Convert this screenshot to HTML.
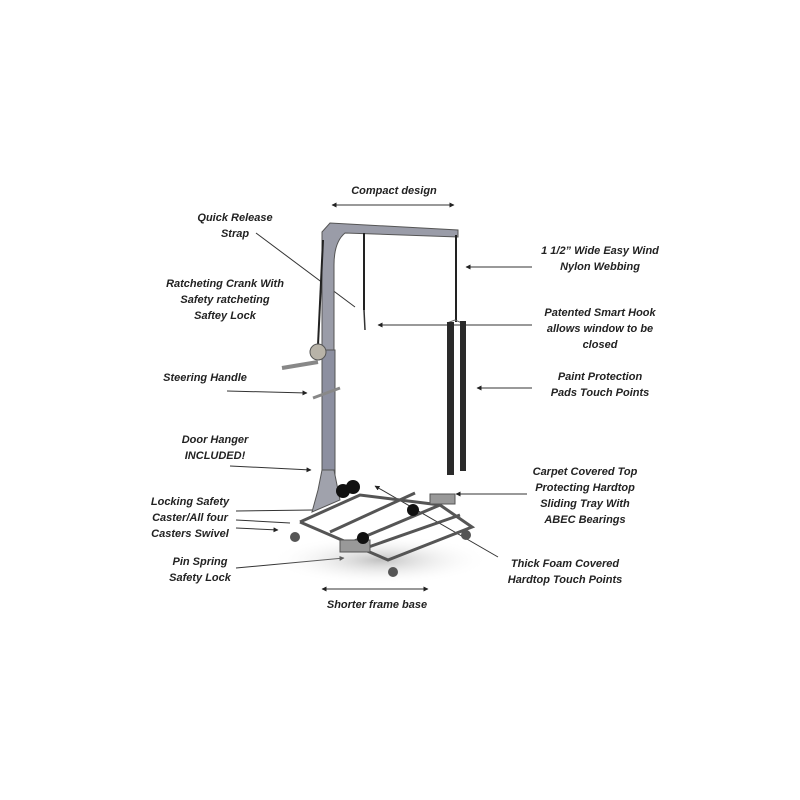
<!DOCTYPE html>
<html><head><style>
body{margin:0;background:#fff;}
.t{position:absolute;font-family:"Liberation Sans",sans-serif;font-weight:bold;font-style:italic;font-size:11px;line-height:16px;color:#222;text-align:center;}
</style></head><body>
<div style="position:relative;width:800px;height:800px;overflow:hidden">
<svg width="800" height="800" style="position:absolute;left:0;top:0">
<defs><marker id="a" viewBox="0 0 10 10" refX="9" refY="5" markerWidth="5" markerHeight="5" orient="auto"><path d="M0,0L10,5L0,10z" fill="#222"/></marker>
<marker id="b" viewBox="0 0 10 10" refX="1" refY="5" markerWidth="5" markerHeight="5" orient="auto"><path d="M10,0L0,5L10,10z" fill="#222"/></marker>
<radialGradient id="sh"><stop offset="0" stop-color="#999"/><stop offset="1" stop-color="#fff" stop-opacity="0"/></radialGradient></defs>
<g stroke="#333" stroke-width="1" fill="none">
<line x1="332" y1="205" x2="454" y2="205" marker-start="url(#b)" marker-end="url(#a)"/>
<line x1="322" y1="589" x2="428" y2="589" marker-start="url(#b)" marker-end="url(#a)"/>
<line x1="256" y1="233" x2="355" y2="307"/>
<line x1="532" y1="267" x2="466" y2="267" marker-end="url(#a)"/>
<line x1="532" y1="325" x2="378" y2="325" marker-end="url(#a)"/>
<line x1="532" y1="388" x2="477" y2="388" marker-end="url(#a)"/>
<line x1="227" y1="391" x2="307" y2="393" marker-end="url(#a)"/>
<line x1="230" y1="466" x2="311" y2="470" marker-end="url(#a)"/>
<line x1="527" y1="494" x2="456" y2="494" marker-end="url(#a)"/>
<line x1="236" y1="511" x2="313" y2="510"/>
<line x1="236" y1="520" x2="290" y2="523"/>
<line x1="236" y1="528" x2="278" y2="530" marker-end="url(#a)"/>
<line x1="236" y1="568" x2="344" y2="558" marker-end="url(#a)"/>
<line x1="498" y1="557" x2="375" y2="486" marker-end="url(#a)"/>
</g>
<ellipse cx="380" cy="560" rx="110" ry="25" fill="url(#sh)" opacity="0.6"/>
<path d="M322,232 L330,223 L458,230 L458,237 L345,233 Q334,242 334,265 L334,500 L322,500 Z" fill="#9a9ca8" stroke="#555"/>
<rect x="322" y="350" width="13" height="150" fill="#8c8fa0" stroke="#555"/>
<path d="M318,490 L322,470 L334,470 L340,500 L312,512 Z" fill="#a0a2ac" stroke="#555"/>
<line x1="323" y1="240" x2="318" y2="345" stroke="#222" stroke-width="2"/>
<circle cx="318" cy="352" r="8" fill="#b8b3a8" stroke="#555"/>
<line x1="282" y1="368" x2="318" y2="362" stroke="#888" stroke-width="4"/>
<line x1="313" y1="398" x2="340" y2="388" stroke="#888" stroke-width="3"/>
<line x1="364" y1="233" x2="364" y2="310" stroke="#222" stroke-width="2"/>
<line x1="364" y1="310" x2="365" y2="330" stroke="#333" stroke-width="1.5"/>
<line x1="456" y1="235" x2="456" y2="322" stroke="#222" stroke-width="2"/>
<path d="M447,323 L455,320 L462,323" fill="none" stroke="#666"/>
<rect x="447" y="322" width="7" height="153" fill="#2a2a2a"/>
<rect x="460" y="321" width="6" height="150" fill="#2a2a2a"/>
<g stroke="#555" stroke-width="3" fill="none">
<path d="M300,522 L388,560 L472,527 L440,505 L360,495 L300,522"/>
<line x1="330" y1="532" x2="415" y2="493"/>
<line x1="345" y1="545" x2="440" y2="505"/>
<line x1="360" y1="550" x2="460" y2="515"/>
</g>
<rect x="340" y="540" width="30" height="12" fill="#999" stroke="#555"/>
<rect x="430" y="494" width="25" height="10" fill="#999" stroke="#555"/>
<circle cx="343" cy="491" r="7" fill="#111"/><circle cx="353" cy="487" r="7" fill="#111"/>
<circle cx="413" cy="510" r="6" fill="#111"/><circle cx="363" cy="538" r="6" fill="#111"/>
<circle cx="295" cy="537" r="5" fill="#555"/><circle cx="393" cy="572" r="5" fill="#555"/><circle cx="466" cy="535" r="5" fill="#555"/>
</svg>
<div class="t" style="left:332px;top:183px;width:124px">Compact design</div>
<div class="t" style="left:180px;top:210px;width:110px">Quick Release<br>Strap</div>
<div class="t" style="left:150px;top:276px;width:150px">Ratcheting Crank With<br>Safety ratcheting<br>Saftey Lock</div>
<div class="t" style="left:150px;top:370px;width:110px">Steering Handle</div>
<div class="t" style="left:160px;top:432px;width:110px">Door Hanger<br>INCLUDED!</div>
<div class="t" style="left:140px;top:494px;width:100px">Locking Safety<br>Caster/All four<br>Casters Swivel</div>
<div class="t" style="left:150px;top:554px;width:100px">Pin Spring<br>Safety Lock</div>
<div class="t" style="left:312px;top:597px;width:130px">Shorter frame base</div>
<div class="t" style="left:520px;top:243px;width:160px">1 1/2” Wide Easy Wind<br>Nylon Webbing</div>
<div class="t" style="left:520px;top:305px;width:160px">Patented Smart Hook<br>allows window to be<br>closed</div>
<div class="t" style="left:520px;top:369px;width:160px">Paint Protection<br>Pads Touch Points</div>
<div class="t" style="left:510px;top:464px;width:150px">Carpet Covered Top<br>Protecting Hardtop<br>Sliding Tray With<br>ABEC Bearings</div>
<div class="t" style="left:490px;top:556px;width:150px">Thick Foam Covered<br>Hardtop Touch Points</div>
</div>
</body></html>
